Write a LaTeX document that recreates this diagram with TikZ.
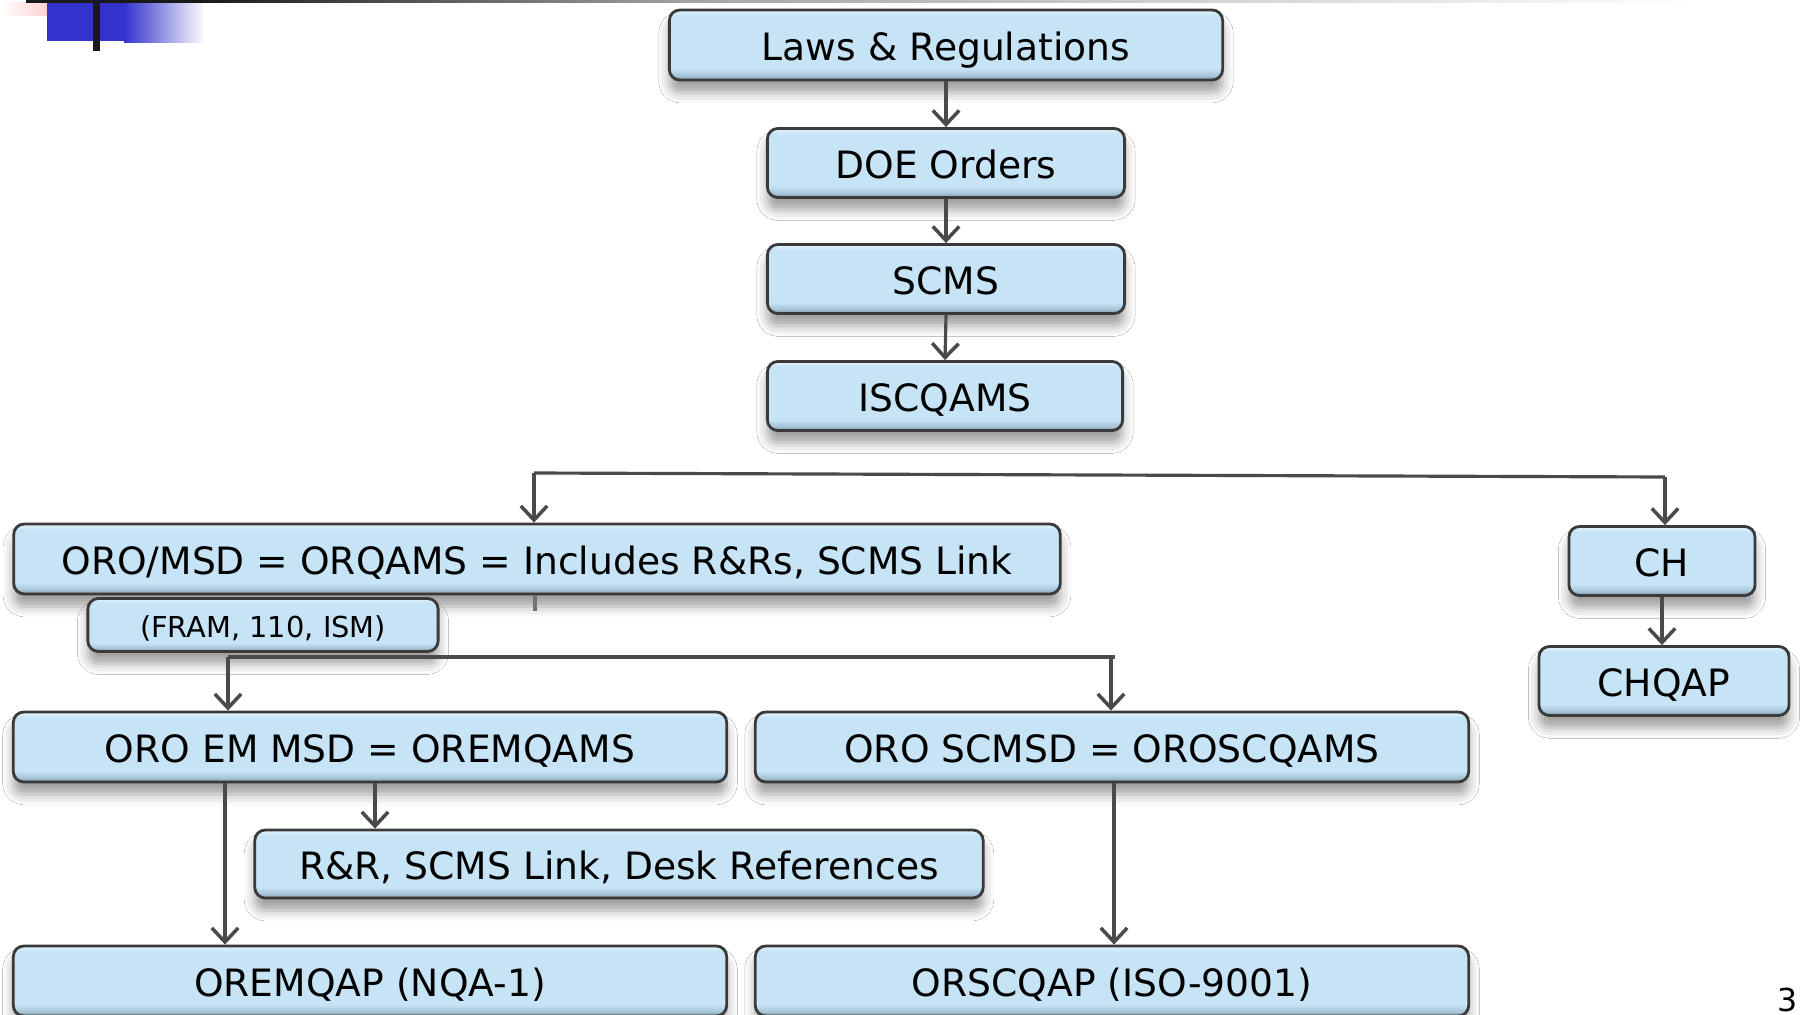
\documentclass[tikz,border=0pt]{standalone}
\usepackage{fontspec}
\newfontfamily\boxf{DejaVu Sans}
\usetikzlibrary{arrows.meta,shadows.blur,calc}
\definecolor{bxdk}{HTML}{7A92A2}
\definecolor{bxmd}{HTML}{A6C3D5}
\definecolor{bxmain}{HTML}{C6E4F6}
\definecolor{bxlt}{HTML}{DCEFFA}
\definecolor{bxborder}{HTML}{3A3A3A}
\definecolor{conncol}{HTML}{4A4A4A}
\definecolor{decoblue}{HTML}{3333CC}
\definecolor{decopink}{HTML}{FFB3B3}
\pgfdeclareverticalshading{boxsh}{100bp}{color(0bp)=(bxdk); color(25bp)=(bxdk); color(28bp)=(bxmd); color(33bp)=(bxmain); color(71bp)=(bxmain); color(74bp)=(bxlt); color(100bp)=(bxlt)}
\begin{document}
\begin{tikzpicture}[x=0.01cm,y=-0.01cm,
  box/.style={draw=bxborder, line width=0.8pt, rounded corners=3pt, shade, shading=boxsh,
    blur shadow={shadow xshift=0pt, shadow yshift=-3.5pt, shadow blur radius=3pt, shadow opacity=38},
    inner sep=0pt, font=\boxf\fontsize{10.7}{12}\selectfont, text=black,
    text height=9.5pt, text depth=0.5pt},
  smallbox/.style={box, font=\boxf\fontsize{8.2}{10}\selectfont, text height=7pt, text depth=0pt},
  conn/.style={draw=conncol, line width=0.9pt},
  arr/.style={conn, -{Straight Barb[length=4pt,width=7.5pt,line width=1pt]}}]
\useasboundingbox (0,0) rectangle (1802,1015);
\fill[white] (0,0) rectangle (1802,1015);
% decoration top-left
\shade[left color=white, right color=decopink] (0,3) rectangle (78,15);
\fill[decoblue] (47,3) rectangle (124,41);
\shade[left color=decoblue, right color=white] (124,3) rectangle (205,42);
\fill[black!90] (26,0) rectangle (200,3);
\shade[left color=black!90, right color=black!35] (200,0) rectangle (700,3);
\shade[left color=black!35, right color=white] (700,0) rectangle (1700,3);
\fill[black!90] (93,0) rectangle (100,51);
% boxes
\node[box, minimum width=5.53cm, minimum height=0.70cm] (laws) at (946,45) {Laws \& Regulations};
\node[box, minimum width=3.57cm, minimum height=0.69cm] (doe) at (946,163) {DOE Orders};
\node[box, minimum width=3.57cm, minimum height=0.69cm] (scms) at (946,279) {SCMS};
\node[box, minimum width=3.55cm, minimum height=0.69cm] (iscq) at (945,396) {ISCQAMS};
\node[box, minimum width=10.46cm, minimum height=0.70cm] (oro) at (537,559) {ORO/MSD = ORQAMS = Includes R\&Rs, SCMS Link};
\node[smallbox, minimum width=3.50cm, minimum height=0.53cm] (fram) at (263,625) {(FRAM, 110, ISM)};
\node[box, minimum width=1.86cm, minimum height=0.69cm] (ch) at (1662,561) {CH};
\node[box, minimum width=2.50cm, minimum height=0.69cm] (chqap) at (1664,681) {CHQAP};
\node[box, minimum width=7.13cm, minimum height=0.70cm] (oremsd) at (370,747) {ORO EM MSD = OREMQAMS};
\node[box, minimum width=7.13cm, minimum height=0.70cm] (orosc) at (1112,747) {ORO SCMSD = OROSCQAMS};
\node[box, minimum width=7.28cm, minimum height=0.68cm] (rr) at (619,864) {R\&R, SCMS Link, Desk References};
\node[box, minimum width=7.13cm, minimum height=0.70cm] (oremqap) at (370,981) {OREMQAP (NQA-1)};
\node[box, minimum width=7.13cm, minimum height=0.70cm] (orscqap) at (1112,981) {ORSCQAP (ISO-9001)};
\node[font=\boxf\fontsize{9}{10}\selectfont, inner sep=0pt] (pnum) at (1788,1000) {3};
% connectors
\draw[arr] (laws.south) -- (doe.north);
\draw[arr] (doe.south) -- (scms.north);
\draw[arr] (scms.south) -- (iscq.north);
\coordinate (b1l) at (534,473);
\coordinate (b1r) at (1665,477);
\draw[conn] (b1l) -- (b1r);
\draw[arr] (b1l) -- (b1l |- oro.north);
\draw[arr] (b1r) -- (b1r |- ch.north);
\coordinate (stub) at (535,611);
\draw[conn, draw=black!55] (stub |- oro.south) -- (stub);
\draw[arr] (ch.south) -- (ch.south |- chqap.north);
\coordinate (b2l) at (228,657);
\coordinate (b2r) at (1115,657);
\draw[conn] (b2l) -- (b2r);
\draw[arr] (b2l) -- (b2l |- oremsd.north);
\coordinate (b2d) at (1111,657);
\draw[arr] (b2d) -- (b2d |- orosc.north);
\coordinate (a1) at (375,783);
\draw[arr] (a1) -- (a1 |- rr.north);
\coordinate (a2) at (225,783);
\draw[arr] (a2) -- (a2 |- oremqap.north);
\coordinate (a3) at (1114,783);
\draw[arr] (a3) -- (a3 |- orscqap.north);
\end{tikzpicture}
\end{document}
